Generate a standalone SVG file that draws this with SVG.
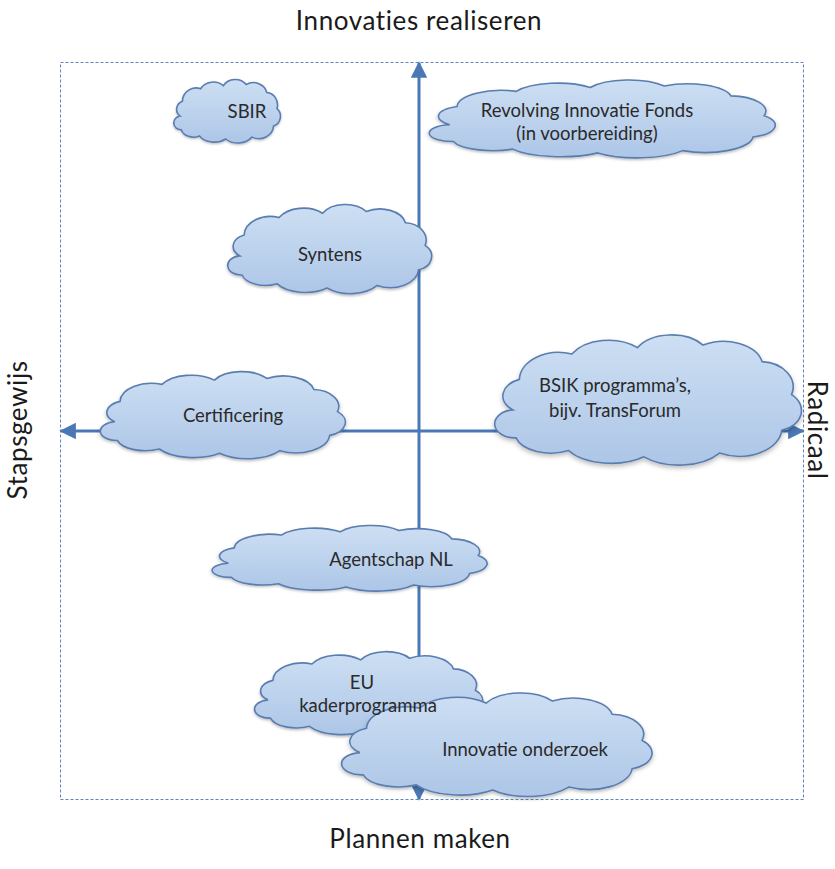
<svg xmlns="http://www.w3.org/2000/svg" xmlns:xlink="http://www.w3.org/1999/xlink" width="835" height="869" viewBox="0 0 835 869">
<style>
.cloud{fill:url(#cg);stroke:#5a7db0;stroke-width:1.6;filter:url(#sh)}
.lbl{font-family:Lato,"Open Sans","Liberation Sans",sans-serif;font-size:18.5px;fill:#2a2a2a;text-anchor:middle}
.ax{font-family:Lato,"Open Sans","Liberation Sans",sans-serif;font-size:26px;letter-spacing:0.6px;fill:#1a1a1a;text-anchor:middle}
.axis{stroke:#4a78b4;stroke-width:3;fill:none}
</style>
<defs>
<linearGradient id="cg" x1="0" y1="0" x2="0" y2="1">
<stop offset="0" stop-color="#cddff3"/>
<stop offset="1" stop-color="#adc6e7"/>
</linearGradient>
<filter id="sh" x="-10%" y="-10%" width="120%" height="130%">
<feDropShadow dx="0" dy="2" stdDeviation="1.5" flood-color="#000" flood-opacity="0.25"/>
</filter>
<path id="cloud" vector-effect="non-scaling-stroke" d="M 20 58 A 16 14 0 0 1 24 34 A 24 22 0 0 1 56 14 A 26 22 0 0 1 96 9 A 24 20 0 0 1 136 7 A 24 20 0 0 1 172 20 A 20 20 0 0 1 190 46 A 16 16 0 0 1 184 74 A 26 22 0 0 1 146 92 A 30 22 0 0 1 100 95 A 30 20 0 0 1 54 90 A 22 16 0 0 1 22 80 A 12 11 0 0 1 20 58 Z"/>
<marker id="ah" viewBox="0 0 10 10" refX="9" refY="5" markerWidth="5.5" markerHeight="5.5" orient="auto" markerUnits="strokeWidth">
<path d="M0 0 L10 5 L0 10 Z" fill="#4a78b4"/>
</marker>
</defs>
<rect x="0" y="0" width="835" height="869" fill="#ffffff"/>
<rect id="frame" x="60.5" y="62.5" width="743" height="737" fill="none" stroke="#5b86c2" stroke-width="1" stroke-dasharray="3 2"/>
<g id="axes">
<line class="axis" x1="419" y1="431" x2="419" y2="63" marker-end="url(#ah)"/>
<line class="axis" x1="419" y1="431" x2="419" y2="799" marker-end="url(#ah)"/>
<line class="axis" x1="419" y1="431" x2="61" y2="431" marker-end="url(#ah)"/>
<line class="axis" x1="419" y1="431" x2="803" y2="431" marker-end="url(#ah)"/>
</g>
<g id="axis-labels">
<text class="ax" x="419" y="30">Innovaties realiseren</text>
<text class="ax" x="420" y="848">Plannen maken</text>
<text class="ax" transform="translate(27,430) rotate(-90)">Stapsgewijs</text>
<text class="ax" transform="translate(808,430) rotate(90)">Radicaal</text>
</g>
<g id="sbir">
<use xlink:href="#cloud" class="cloud" transform="translate(168.7,80.1) scale(0.57,0.62)"/>
<text class="lbl" x="247" y="118">SBIR</text>
</g>
<g id="revolving">
<use xlink:href="#cloud" class="cloud" transform="translate(412.7,80.7) scale(1.85,0.76)"/>
<text class="lbl" x="587" y="117">Revolving Innovatie Fonds</text>
<text class="lbl" x="587" y="140">(in voorbereiding)</text>
</g>
<g id="syntens">
<use xlink:href="#cloud" class="cloud" transform="translate(218,205.4) scale(1.09,0.87)"/>
<text class="lbl" x="330" y="261">Syntens</text>
</g>
<g id="certificering">
<use xlink:href="#cloud" class="cloud" transform="translate(88.6,372.5) scale(1.31,0.85)"/>
<text class="lbl" x="233" y="422">Certificering</text>
</g>
<g id="bsik">
<use xlink:href="#cloud" class="cloud" transform="translate(480,336.2) scale(1.64,1.27)"/>
<text class="lbl" x="615" y="392">BSIK programma’s,</text>
<text class="lbl" x="615" y="417">bijv. TransForum</text>
</g>
<g id="agentschap">
<use xlink:href="#cloud" class="cloud" transform="translate(199,526.1) scale(1.47,0.64)"/>
<text class="lbl" x="391" y="566">Agentschap NL</text>
</g>
<g id="eu-kaderprogramma">
<use xlink:href="#cloud" class="cloud" transform="translate(243.6,652.5) scale(1.22,0.82)"/>
</g>
<g id="innovatie-onderzoek">
<use xlink:href="#cloud" class="cloud" transform="translate(326.7,694) scale(1.66,1.01)"/>
<text class="lbl" x="525" y="756">Innovatie onderzoek</text>
</g>
<g id="eu-kaderprogramma-label">
<text class="lbl" x="362" y="689">EU</text>
<text class="lbl" x="368" y="712">kaderprogramma</text>
</g>
</svg>
